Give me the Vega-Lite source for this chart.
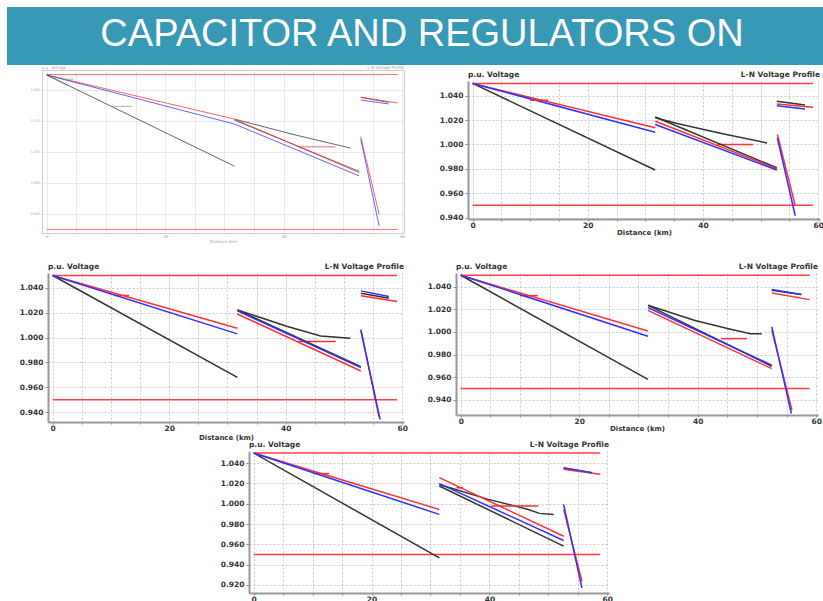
{
  "$schema": "https://vega.github.io/schema/vega-lite/v6.json",
  "padding": {"left": 7, "top": 7, "right": 0, "bottom": 0},
  "background": "white",
  "datasets": {
    "v": [
      {"p":1,"s":"lh","ph":"Lim","d":0,"v":1.05},{"p":1,"s":"lh","ph":"Lim","d":59.2,"v":1.05},
      {"p":1,"s":"ll","ph":"Lim","d":0,"v":0.95},{"p":1,"s":"ll","ph":"Lim","d":59.2,"v":0.95},
      {"p":1,"s":"a1","ph":"A","d":0,"v":1.0497},{"p":1,"s":"a1","ph":"A","d":31.7,"v":0.9908},
      {"p":1,"s":"g1","ph":"G","d":0,"v":1.0497},{"p":1,"s":"g1","ph":"G","d":3.5,"v":1.043},
      {"p":1,"s":"b1","ph":"B","d":0,"v":1.0497},{"p":1,"s":"b1","ph":"B","d":31.7,"v":1.0212},
      {"p":1,"s":"c1","ph":"C","d":0,"v":1.0497},{"p":1,"s":"c1","ph":"C","d":31.7,"v":1.018},
      {"p":1,"s":"x1","ph":"Lat","d":11,"v":1.0294},{"p":1,"s":"x1","ph":"Lat","d":14.4,"v":1.0294},
      {"p":1,"s":"x2","ph":"Lat","d":3,"v":1.047},{"p":1,"s":"x2","ph":"Lat","d":4.5,"v":1.047},
      {"p":1,"s":"a2","ph":"A","d":31.7,"v":1.0212},{"p":1,"s":"a2","ph":"A","d":41.4,"v":1.0115},{"p":1,"s":"a2","ph":"A","d":51.3,"v":1.0025},
      {"p":1,"s":"b2","ph":"B","d":42.5,"v":1.0033},{"p":1,"s":"b2","ph":"B","d":48.7,"v":1.0033},
      {"p":1,"s":"a3","ph":"A","d":31.7,"v":1.0205},{"p":1,"s":"a3","ph":"A","d":52.7,"v":0.9875},
      {"p":1,"s":"b3","ph":"B","d":31.7,"v":1.0212},{"p":1,"s":"b3","ph":"B","d":52.7,"v":0.9867},
      {"p":1,"s":"c3","ph":"C","d":31.7,"v":1.018},{"p":1,"s":"c3","ph":"C","d":52.7,"v":0.9846},
      {"p":1,"s":"a4","ph":"A","d":53,"v":1.0353},{"p":1,"s":"a4","ph":"A","d":57.7,"v":1.032},
      {"p":1,"s":"b4","ph":"B","d":53,"v":1.0353},{"p":1,"s":"b4","ph":"B","d":59.2,"v":1.0316},
      {"p":1,"s":"c4","ph":"C","d":53,"v":1.0335},{"p":1,"s":"c4","ph":"C","d":57.7,"v":1.031},
      {"p":1,"s":"b5","ph":"B","d":53,"v":1.0098},{"p":1,"s":"b5","ph":"B","d":56.1,"v":0.9598},
      {"p":1,"s":"c5","ph":"C","d":53,"v":1.0083},{"p":1,"s":"c5","ph":"C","d":56.1,"v":0.9523},

      {"p":2,"s":"lh","ph":"Lim","d":0,"v":1.05},{"p":2,"s":"lh","ph":"Lim","d":59.1,"v":1.05},
      {"p":2,"s":"ll","ph":"Lim","d":0,"v":0.95},{"p":2,"s":"ll","ph":"Lim","d":59.1,"v":0.95},
      {"p":2,"s":"a1","ph":"A","d":0,"v":1.05},{"p":2,"s":"a1","ph":"A","d":31.7,"v":0.979},
      {"p":2,"s":"b1","ph":"B","d":0,"v":1.05},{"p":2,"s":"b1","ph":"B","d":31.7,"v":1.0136},
      {"p":2,"s":"c1","ph":"C","d":0,"v":1.05},{"p":2,"s":"c1","ph":"C","d":31.7,"v":1.010},
      {"p":2,"s":"x1","ph":"B","d":10,"v":1.0362},{"p":2,"s":"x1","ph":"B","d":13.1,"v":1.0362},
      {"p":2,"s":"a2","ph":"A","d":31.7,"v":1.0218},{"p":2,"s":"a2","ph":"A","d":35.7,"v":1.0169},{"p":2,"s":"a2","ph":"A","d":43.4,"v":1.0087},{"p":2,"s":"a2","ph":"A","d":51.1,"v":1.0012},
      {"p":2,"s":"b2","ph":"B","d":42.5,"v":1.0},{"p":2,"s":"b2","ph":"B","d":48.7,"v":1.0},
      {"p":2,"s":"a3","ph":"A","d":31.7,"v":1.0225},{"p":2,"s":"a3","ph":"A","d":52.8,"v":0.9808},
      {"p":2,"s":"b3","ph":"B","d":31.7,"v":1.019},{"p":2,"s":"b3","ph":"B","d":52.8,"v":0.980},
      {"p":2,"s":"c3","ph":"C","d":31.7,"v":1.0163},{"p":2,"s":"c3","ph":"C","d":52.8,"v":0.979},
      {"p":2,"s":"a4","ph":"A","d":52.8,"v":1.0353},{"p":2,"s":"a4","ph":"A","d":57.7,"v":1.0324},
      {"p":2,"s":"b4","ph":"B","d":52.8,"v":1.0332},{"p":2,"s":"b4","ph":"B","d":59.1,"v":1.0305},
      {"p":2,"s":"c4","ph":"C","d":52.8,"v":1.0316},{"p":2,"s":"c4","ph":"C","d":57.7,"v":1.0291},
      {"p":2,"s":"b5","ph":"B","d":52.9,"v":1.0082},{"p":2,"s":"b5","ph":"B","d":56.0,"v":0.9497},
      {"p":2,"s":"c5","ph":"C","d":52.9,"v":1.0054},{"p":2,"s":"c5","ph":"C","d":56.0,"v":0.9415},

      {"p":3,"s":"lh","ph":"Lim","d":0,"v":1.05},{"p":3,"s":"lh","ph":"Lim","d":59.1,"v":1.05},
      {"p":3,"s":"ll","ph":"Lim","d":0,"v":0.95},{"p":3,"s":"ll","ph":"Lim","d":59.1,"v":0.95},
      {"p":3,"s":"a1","ph":"A","d":0,"v":1.05},{"p":3,"s":"a1","ph":"A","d":31.7,"v":0.968},
      {"p":3,"s":"b1","ph":"B","d":0,"v":1.05},{"p":3,"s":"b1","ph":"B","d":31.7,"v":1.0075},
      {"p":3,"s":"x1","ph":"B","d":10.6,"v":1.0339},{"p":3,"s":"x1","ph":"B","d":13.1,"v":1.0339},
      {"p":3,"s":"c1","ph":"C","d":0,"v":1.05},{"p":3,"s":"c1","ph":"C","d":31.7,"v":1.003},
      {"p":3,"s":"a2","ph":"A","d":31.7,"v":1.0223},{"p":3,"s":"a2","ph":"A","d":40.3,"v":1.0089},{"p":3,"s":"a2","ph":"A","d":46,"v":1.0013},{"p":3,"s":"a2","ph":"A","d":51.1,"v":0.9995},
      {"p":3,"s":"b2","ph":"B","d":42,"v":0.9968},{"p":3,"s":"b2","ph":"B","d":48.6,"v":0.9968},
      {"p":3,"s":"a3","ph":"A","d":31.7,"v":1.0223},{"p":3,"s":"a3","ph":"A","d":52.9,"v":0.9766},
      {"p":3,"s":"b3","ph":"B","d":31.7,"v":1.019},{"p":3,"s":"b3","ph":"B","d":52.9,"v":0.9731},
      {"p":3,"s":"c3","ph":"C","d":31.7,"v":1.0215},{"p":3,"s":"c3","ph":"C","d":52.9,"v":0.9758},
      {"p":3,"s":"a4","ph":"A","d":52.9,"v":1.0357},{"p":3,"s":"a4","ph":"A","d":57.7,"v":1.0317},
      {"p":3,"s":"b4","ph":"B","d":52.9,"v":1.0336},{"p":3,"s":"b4","ph":"B","d":59.1,"v":1.029},
      {"p":3,"s":"c4","ph":"C","d":52.9,"v":1.0376},{"p":3,"s":"c4","ph":"C","d":57.7,"v":1.033},
      {"p":3,"s":"b5","ph":"B","d":52.9,"v":1.0067},{"p":3,"s":"b5","ph":"B","d":56,"v":0.9363},
      {"p":3,"s":"c5","ph":"C","d":52.9,"v":1.0056},{"p":3,"s":"c5","ph":"C","d":56.2,"v":0.934},

      {"p":4,"s":"lh","ph":"Lim","d":0,"v":1.05},{"p":4,"s":"lh","ph":"Lim","d":58.9,"v":1.05},
      {"p":4,"s":"ll","ph":"Lim","d":0,"v":0.95},{"p":4,"s":"ll","ph":"Lim","d":58.9,"v":0.95},
      {"p":4,"s":"a1","ph":"A","d":0,"v":1.05},{"p":4,"s":"a1","ph":"A","d":31.6,"v":0.9582},
      {"p":4,"s":"b1","ph":"B","d":0,"v":1.05},{"p":4,"s":"b1","ph":"B","d":31.6,"v":1.0009},
      {"p":4,"s":"x1","ph":"B","d":10,"v":1.032},{"p":4,"s":"x1","ph":"B","d":13,"v":1.032},
      {"p":4,"s":"c1","ph":"C","d":0,"v":1.05},{"p":4,"s":"c1","ph":"C","d":31.6,"v":0.9962},
      {"p":4,"s":"a2","ph":"A","d":31.6,"v":1.0235},{"p":4,"s":"a2","ph":"A","d":39.4,"v":1.0103},{"p":4,"s":"a2","ph":"A","d":45,"v":1.003},{"p":4,"s":"a2","ph":"A","d":48.9,"v":0.9985},{"p":4,"s":"a2","ph":"A","d":50.8,"v":0.9985},
      {"p":4,"s":"b2","ph":"B","d":43.9,"v":0.9941},{"p":4,"s":"b2","ph":"B","d":48.3,"v":0.9941},
      {"p":4,"s":"a3","ph":"A","d":31.6,"v":1.0235},{"p":4,"s":"a3","ph":"A","d":52.5,"v":0.9697},
      {"p":4,"s":"b3","ph":"B","d":31.6,"v":1.019},{"p":4,"s":"b3","ph":"B","d":52.5,"v":0.9676},
      {"p":4,"s":"c3","ph":"C","d":31.6,"v":1.0215},{"p":4,"s":"c3","ph":"C","d":52.5,"v":0.9706},
      {"p":4,"s":"a4","ph":"A","d":52.5,"v":1.0368},{"p":4,"s":"a4","ph":"A","d":57.5,"v":1.033},
      {"p":4,"s":"b4","ph":"B","d":52.5,"v":1.0344},{"p":4,"s":"b4","ph":"B","d":58.9,"v":1.0285},
      {"p":4,"s":"c4","ph":"C","d":52.5,"v":1.0374},{"p":4,"s":"c4","ph":"C","d":57.5,"v":1.033},
      {"p":4,"s":"b5","ph":"B","d":52.5,"v":1.0015},{"p":4,"s":"b5","ph":"B","d":55.9,"v":0.931},
      {"p":4,"s":"c5","ph":"C","d":52.5,"v":1.0044},{"p":4,"s":"c5","ph":"C","d":55.8,"v":0.928},

      {"p":5,"s":"lh","ph":"Lim","d":0,"v":1.05},{"p":5,"s":"lh","ph":"Lim","d":58.8,"v":1.05},
      {"p":5,"s":"ll","ph":"Lim","d":0,"v":0.95},{"p":5,"s":"ll","ph":"Lim","d":58.8,"v":0.95},
      {"p":5,"s":"a1","ph":"A","d":0,"v":1.05},{"p":5,"s":"a1","ph":"A","d":31.5,"v":0.9466},
      {"p":5,"s":"b1","ph":"B","d":0,"v":1.05},{"p":5,"s":"b1","ph":"B","d":31.5,"v":0.9944},
      {"p":5,"s":"x1","ph":"B","d":10.2,"v":1.0297},{"p":5,"s":"x1","ph":"B","d":12.8,"v":1.0297},
      {"p":5,"s":"c1","ph":"C","d":0,"v":1.05},{"p":5,"s":"c1","ph":"C","d":31.5,"v":0.9895},
      {"p":5,"s":"a2","ph":"A","d":31.5,"v":1.019},{"p":5,"s":"a2","ph":"A","d":39.8,"v":1.0043},{"p":5,"s":"a2","ph":"A","d":46.6,"v":0.9944},{"p":5,"s":"a2","ph":"A","d":48.5,"v":0.9905},{"p":5,"s":"a2","ph":"A","d":50.9,"v":0.9895},
      {"p":5,"s":"b2","ph":"B","d":40.3,"v":0.9977},{"p":5,"s":"b2","ph":"B","d":48.3,"v":0.9977},
      {"p":5,"s":"x2","ph":"B","d":34.4,"v":1.0158},{"p":5,"s":"x2","ph":"B","d":35.5,"v":1.0158},
      {"p":5,"s":"a3","ph":"A","d":31.5,"v":1.0175},{"p":5,"s":"a3","ph":"A","d":52.6,"v":0.9582},
      {"p":5,"s":"b3","ph":"B","d":31.5,"v":1.0257},{"p":5,"s":"b3","ph":"B","d":52.6,"v":0.968},
      {"p":5,"s":"c3","ph":"C","d":31.5,"v":1.0198},{"p":5,"s":"c3","ph":"C","d":52.6,"v":0.9638},
      {"p":5,"s":"a4","ph":"A","d":52.6,"v":1.035},{"p":5,"s":"a4","ph":"A","d":57.4,"v":1.0306},
      {"p":5,"s":"b4","ph":"B","d":52.6,"v":1.0339},{"p":5,"s":"b4","ph":"B","d":58.8,"v":1.029},
      {"p":5,"s":"c4","ph":"C","d":52.6,"v":1.0356},{"p":5,"s":"c4","ph":"C","d":57.4,"v":1.0306},
      {"p":5,"s":"b5","ph":"B","d":52.6,"v":0.9944},{"p":5,"s":"b5","ph":"B","d":55.7,"v":0.9236},
      {"p":5,"s":"c5","ph":"C","d":52.6,"v":0.9993},{"p":5,"s":"c5","ph":"C","d":55.7,"v":0.917}
    ]
  },
  "config": {
    "view": {"stroke": null},
    "axis": {
      "labelFont": "DejaVu Sans", "labelFontWeight": "bold", "labelFontSize": 7.5, "labelColor": "#333",
      "titleFont": "DejaVu Sans", "titleFontSize": 7, "titleFontWeight": "bold", "titleColor": "#333",
      "domainColor": "#999", "domainWidth": 2, "tickColor": "#888", "tickSize": 3,
      "gridColor": "#bbb", "gridDash": [2, 2], "gridWidth": 0.8,
      "labelPadding": 2, "titlePadding": 3, "labelFlush": false, "labelOverlap": false
    },
    "axisX": {"tickSize": 2, "labelPadding": 0, "titlePadding": 0},
    "text": {"font": "DejaVu Sans", "fontWeight": "bold", "fontSize": 7.5, "color": "#333"}
  },
  "spacing": 0,
  "vconcat": [
    {
      "width": 816, "height": 58,
      "view": {"fill": "#3799b6", "stroke": null},
      "data": {"values": [{"t": "CAPACITOR AND REGULATORS ON"}]},
      "mark": {"type": "text", "font": "Liberation Sans", "fontSize": 38, "fontWeight": "normal", "color": "white", "baseline": "middle", "dx": 7, "dy": -1},
      "encoding": {"text": {"field": "t"}}
    },
    {
      "spacing": 19,
      "vconcat": [
        {
          "spacing": 0,
          "hconcat": [
            {"width": 1, "height": 1, "data": {"values": []}, "mark": "point", "encoding": {}},
            {
              "spacing": 24,
              "hconcat": [
                {
                  "width": 362, "height": 163,
                  "view": {"stroke": "#ccc"},
                  "layer": [
                    {
                      "data": {"name": "v"}, "transform": [{"filter": "datum.p == 1"}],
                      "mark": {"type": "line", "strokeWidth": 1, "opacity": 0.75},
                      "encoding": {
                        "x": {"field": "d", "type": "quantitative", "scale": {"domain": [-0.8, 60.3], "nice": false, "zero": false},
                          "axis": {"values": [0,5,10,15,20,25,30,35,40,45,50,55,60], "tickCount": 100, "format": "d", "labelExpr": "datum.value % 20 === 0 ? datum.label : ''", "title": "Distance (km)", "labelOverlap": false, "labelFontSize": 4, "titleFontSize": 4, "labelColor": "#999", "titleColor": "#999", "labelFontWeight": "normal", "titleFontWeight": "normal", "gridDash": [], "gridColor": "#e3e3e3", "domainColor": "#ccc", "domainWidth": 1, "tickSize": 0, "labelPadding": 1, "titlePadding": 1}},
                        "y": {"field": "v", "type": "quantitative", "scale": {"domain": [0.9477, 1.0529], "nice": false, "zero": false},
                          "axis": {"values": [0.96, 0.98, 1.0, 1.02, 1.04], "tickCount": 100, "format": ".3f", "title": null, "labelOverlap": false, "labelFontSize": 3.5, "labelColor": "#aaa", "labelFontWeight": "normal", "gridDash": [], "gridColor": "#e3e3e3", "domainColor": "#ccc", "domainWidth": 1, "tickSize": 0, "minExtent": 33, "maxExtent": 33}},
                        "color": {"field": "ph", "type": "nominal", "legend": null,
                          "scale": {"domain": ["A", "B", "C", "Lim", "Lat", "G"], "range": ["#333333", "#ff3030", "#3030ff", "#ff4040", "#999999", "#2ca02c"]}},
                        "detail": {"field": "s"}
                      }
                    },
                    {
                      "data": {"values": [{"t": "p.u. Voltage"}]},
                      "mark": {"type": "text", "align": "left", "baseline": "bottom", "dy": 0, "fontSize": 4, "fontWeight": "normal", "color": "#999"},
                      "encoding": {"x": {"datum": -0.8}, "y": {"datum": 1.0529}, "text": {"field": "t"}}
                    },
                    {
                      "data": {"values": [{"t": "L-N Voltage Profile"}]},
                      "mark": {"type": "text", "align": "right", "baseline": "bottom", "dy": 0, "fontSize": 4, "fontWeight": "normal", "color": "#999"},
                      "encoding": {"x": {"datum": 60.3}, "y": {"datum": 1.0529}, "text": {"field": "t"}}
                    }
                  ]
                },
                {
                  "spacing": 0,
                  "vconcat": [
                    {"width": 1, "height": 1, "data": {"values": []}, "mark": "point", "encoding": {}},
                    {
                      "width": 352, "height": 138,
                      "layer": [
                        {
                          "data": {"name": "v"}, "transform": [{"filter": "datum.p == 2"}],
                          "mark": {"type": "line", "strokeWidth": 1.5},
                          "encoding": {
                            "x": {"field": "d", "type": "quantitative", "scale": {"domain": [-0.8, 60.3], "nice": false, "zero": false},
                              "axis": {"values": [0,5,10,15,20,25,30,35,40,45,50,55,60], "tickCount": 100, "format": "d", "labelExpr": "datum.value % 20 === 0 ? datum.label : ''", "title": "Distance (km)", "labelOverlap": false}},
                            "y": {"field": "v", "type": "quantitative", "scale": {"domain": [0.9388, 1.052], "nice": false, "zero": false},
                              "axis": {"values": [0.94, 0.96, 0.98, 1.0, 1.02, 1.04], "tickCount": 100, "format": ".3f", "title": null, "labelOverlap": false, "minExtent": 38, "maxExtent": 38}},
                            "color": {"field": "ph", "type": "nominal", "legend": null,
                              "scale": {"domain": ["A", "B", "C", "Lim"], "range": ["#1a1a1a", "#ff2020", "#2020ff", "#ff2020"]}},
                            "detail": {"field": "s"}
                          }
                        },
                        {
                          "data": {"values": [{"t": "p.u. Voltage"}]},
                          "mark": {"type": "text", "align": "left", "baseline": "bottom", "dy": -2},
                          "encoding": {"x": {"datum": -0.8}, "y": {"datum": 1.052}, "text": {"field": "t"}}
                        },
                        {
                          "data": {"values": [{"t": "L-N Voltage Profile"}]},
                          "mark": {"type": "text", "align": "right", "baseline": "bottom", "dy": -2},
                          "encoding": {"x": {"datum": 60.3}, "y": {"datum": 1.052}, "text": {"field": "t"}}
                        }
                      ]
                    }
                  ]
                }
              ]
            }
          ]
        },
        {
          "spacing": 0,
          "vconcat": [
            {
              "spacing": 0,
              "hconcat": [
                {"width": 1, "height": 1, "data": {"values": []}, "mark": "point", "encoding": {}},
                {
                  "spacing": 10,
                  "hconcat": [
                    {
                      "width": 356, "height": 149,
                      "layer": [
                        {
                          "data": {"name": "v"}, "transform": [{"filter": "datum.p == 3"}],
                          "mark": {"type": "line", "strokeWidth": 1.5},
                          "encoding": {
                            "x": {"field": "d", "type": "quantitative", "scale": {"domain": [-0.8, 60.3], "nice": false, "zero": false},
                              "axis": {"values": [0,5,10,15,20,25,30,35,40,45,50,55,60], "tickCount": 100, "format": "d", "labelExpr": "datum.value % 20 === 0 ? datum.label : ''", "title": "Distance (km)", "labelOverlap": false, "titlePadding": 2}},
                            "y": {"field": "v", "type": "quantitative", "scale": {"domain": [0.932, 1.052], "nice": false, "zero": false},
                              "axis": {"values": [0.94, 0.96, 0.98, 1.0, 1.02, 1.04], "tickCount": 100, "format": ".3f", "title": null, "labelOverlap": false, "minExtent": 40, "maxExtent": 40}},
                            "color": {"field": "ph", "type": "nominal", "legend": null,
                              "scale": {"domain": ["A", "B", "C", "Lim"], "range": ["#1a1a1a", "#ff2020", "#2020ff", "#ff2020"]}},
                            "detail": {"field": "s"}
                          }
                        },
                        {
                          "data": {"values": [{"t": "p.u. Voltage"}]},
                          "mark": {"type": "text", "align": "left", "baseline": "bottom", "dy": -2},
                          "encoding": {"x": {"datum": -0.8}, "y": {"datum": 1.052}, "text": {"field": "t"}}
                        },
                        {
                          "data": {"values": [{"t": "L-N Voltage Profile"}]},
                          "mark": {"type": "text", "align": "right", "baseline": "bottom", "dy": -2},
                          "encoding": {"x": {"datum": 60.3}, "y": {"datum": 1.052}, "text": {"field": "t"}}
                        }
                      ]
                    },
                    {
                      "width": 362, "height": 142,
                      "layer": [
                        {
                          "data": {"name": "v"}, "transform": [{"filter": "datum.p == 4"}],
                          "mark": {"type": "line", "strokeWidth": 1.5},
                          "encoding": {
                            "x": {"field": "d", "type": "quantitative", "scale": {"domain": [-0.8, 60.3], "nice": false, "zero": false},
                              "axis": {"values": [0,5,10,15,20,25,30,35,40,45,50,55,60], "tickCount": 100, "format": "d", "labelExpr": "datum.value % 20 === 0 ? datum.label : ''", "title": "Distance (km)", "labelOverlap": false}},
                            "y": {"field": "v", "type": "quantitative", "scale": {"domain": [0.9267, 1.052], "nice": false, "zero": false},
                              "axis": {"values": [0.94, 0.96, 0.98, 1.0, 1.02, 1.04], "tickCount": 100, "format": ".3f", "title": null, "labelOverlap": false, "minExtent": 38, "maxExtent": 38}},
                            "color": {"field": "ph", "type": "nominal", "legend": null,
                              "scale": {"domain": ["A", "B", "C", "Lim"], "range": ["#1a1a1a", "#ff2020", "#2020ff", "#ff2020"]}},
                            "detail": {"field": "s"}
                          }
                        },
                        {
                          "data": {"values": [{"t": "p.u. Voltage"}]},
                          "mark": {"type": "text", "align": "left", "baseline": "bottom", "dy": -2},
                          "encoding": {"x": {"datum": -0.8}, "y": {"datum": 1.052}, "text": {"field": "t"}}
                        },
                        {
                          "data": {"values": [{"t": "L-N Voltage Profile"}]},
                          "mark": {"type": "text", "align": "right", "baseline": "bottom", "dy": -2},
                          "encoding": {"x": {"datum": 60.3}, "y": {"datum": 1.052}, "text": {"field": "t"}}
                        }
                      ]
                    }
                  ]
                }
              ]
            },
            {
              "spacing": 0,
              "hconcat": [
                {"width": 207, "height": 1, "data": {"values": []}, "mark": "point", "encoding": {}},
                {
                  "width": 360, "height": 142,
                  "layer": [
                    {
                      "data": {"name": "v"}, "transform": [{"filter": "datum.p == 5"}],
                      "mark": {"type": "line", "strokeWidth": 1.5},
                      "encoding": {
                        "x": {"field": "d", "type": "quantitative", "scale": {"domain": [-0.8, 60.3], "nice": false, "zero": false},
                          "axis": {"values": [0,5,10,15,20,25,30,35,40,45,50,55,60], "tickCount": 100, "format": "d", "labelExpr": "datum.value % 20 === 0 ? datum.label : ''", "title": "Distance (km)", "labelOverlap": false}},
                        "y": {"field": "v", "type": "quantitative", "scale": {"domain": [0.912, 1.052], "nice": false, "zero": false},
                          "axis": {"values": [0.92, 0.94, 0.96, 0.98, 1.0, 1.02, 1.04], "tickCount": 100, "format": ".3f", "title": null, "labelOverlap": false, "minExtent": 35, "maxExtent": 35}},
                        "color": {"field": "ph", "type": "nominal", "legend": null,
                          "scale": {"domain": ["A", "B", "C", "Lim"], "range": ["#1a1a1a", "#ff2020", "#2020ff", "#ff2020"]}},
                        "detail": {"field": "s"}
                      }
                    },
                    {
                      "data": {"values": [{"t": "p.u. Voltage"}]},
                      "mark": {"type": "text", "align": "left", "baseline": "bottom", "dy": -2},
                      "encoding": {"x": {"datum": -0.8}, "y": {"datum": 1.052}, "text": {"field": "t"}}
                    },
                    {
                      "data": {"values": [{"t": "L-N Voltage Profile"}]},
                      "mark": {"type": "text", "align": "right", "baseline": "bottom", "dy": -2},
                      "encoding": {"x": {"datum": 60.3}, "y": {"datum": 1.052}, "text": {"field": "t"}}
                    }
                  ]
                }
              ]
            }
          ]
        }
      ]
    }
  ]
}
